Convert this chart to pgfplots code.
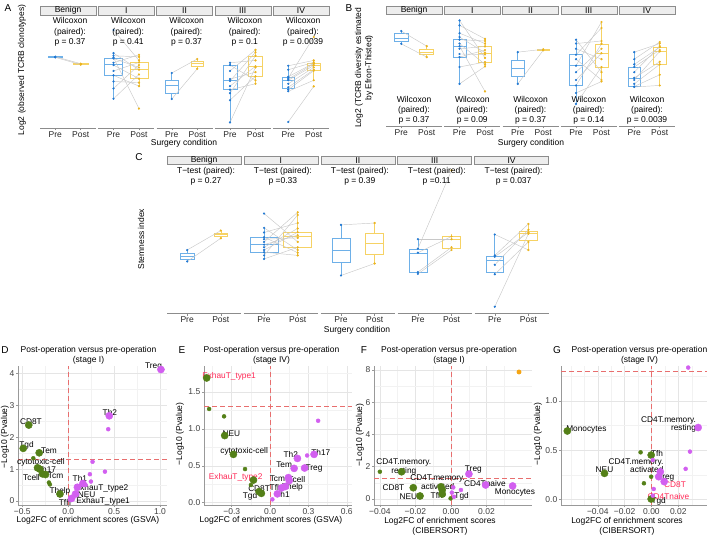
\documentclass[border=0pt]{standalone}
\usepackage{pgfplots}
\usepackage{pgfplotstable}
\pgfplotsset{compat=1.18}
\usepgfplotslibrary{statistics}
\usepackage{fontspec}
\setmainfont{Liberation Sans}

\definecolor{preblue}{RGB}{31,119,210}
\definecolor{prebox}{RGB}{110,176,232}
\definecolor{postgold}{RGB}{236,180,30}
\definecolor{postbox}{RGB}{246,210,100}
\definecolor{pairline}{RGB}{200,200,200}
\definecolor{stripfill}{RGB}{237,237,237}
\definecolor{stripdraw}{RGB}{140,140,140}
\definecolor{vgreen}{RGB}{84,128,24}
\definecolor{vmag}{RGB}{210,95,240}
\definecolor{vorange}{RGB}{245,165,20}
\definecolor{vred}{RGB}{255,40,85}
\definecolor{refred}{RGB}{232,110,110}

\newcommand{\fs}{\fontsize{8.5}{10.2}\selectfont}
\newcommand{\fv}{\fontsize{8.3}{7.2}\selectfont}
\newcommand{\fl}{\fontsize{10}{12}\selectfont}
\tikzset{lab/.style={font=\fv, inner sep=0}}

% ---------- Panel A (paired values: pre post) ----------
\pgfplotstableread{
pre post
17.46 17.16
17.43 17.12
}\ABen
\pgfplotstableread{
pre post
18.60 17.30
17.61 16.90
17.50 17.45
17.42 15.24
17.38 17.00
17.20 17.54
17.10 16.52
16.85 17.21
16.66 16.20
16.40 16.35
16.10 17.10
15.66 16.70
}\AI
\pgfplotstableread{
pre post
16.76 17.36
15.65 16.94
}\AII
\pgfplotstableread{
pre post
17.20 17.30
17.10 16.45
16.85 17.75
16.50 16.80
16.42 17.65
16.20 17.05
16.05 16.30
15.90 17.50
15.60 16.62
14.65 17.00
}\AIII
\pgfplotstableread{
pre post
17.07 17.30
16.90 17.22
16.60 17.18
16.55 18.30
16.50 17.15
16.45 17.08
16.30 17.00
16.15 16.90
16.05 16.86
15.98 16.45
14.67 16.19
}\AIV
% ---------- Panel B ----------
\pgfplotstableread{
pre post
20.68 20.10
20.19 19.68
}\BBen
\pgfplotstableread{
pre post
21.09 19.65
20.90 20.38
20.60 20.20
20.45 19.85
20.35 20.30
20.20 19.40
20.10 18.36
20.00 20.09
19.80 19.78
19.68 19.95
19.30 19.49
18.65 19.32
}\BI
\pgfplotstableread{
pre post
19.87 19.98
18.65 19.94
}\BII
\pgfplotstableread{
pre post
20.35 19.10
20.20 20.30
20.00 19.60
19.77 20.80
19.60 18.80
19.35 21.03
19.10 20.00
18.80 19.83
18.59 20.19
18.30 18.74
17.88 19.30
}\BIII
\pgfplotstableread{
pre post
19.87 20.20
19.60 20.26
19.40 20.06
19.30 19.95
19.10 20.10
18.88 19.50
18.80 19.90
18.65 19.40
18.55 19.00
18.53 18.59
}\BIV
% ---------- Panel C ----------
\pgfplotstableread{
pre post
0.420 0.564
0.335 0.507
}\CBen
\pgfplotstableread{
pre post
0.690 0.480
0.584 0.420
0.550 0.620
0.515 0.400
0.500 0.510
0.480 0.700
0.460 0.530
0.440 0.580
0.420 0.552
0.404 0.380
0.380 0.680
0.354 0.440
}\CI
\pgfplotstableread{
pre post
0.606 0.620
0.231 0.320
}\CII
\pgfplotstableread{
pre post
0.500 0.500
0.430 1.010
0.400 0.520
0.256 0.440
0.243 0.420
}\CIII
\pgfplotstableread{
pre post
0.535 0.420
0.380 0.613
0.370 0.550
0.310 0.570
0.240 0.480
0.000 0.540
}\CIV

\newcommand{\bx}[8]{\addplot[draw=#8, line width=0.6pt, boxplot/draw direction=y, boxplot prepared={draw position=#1, box extend=#2, whisker extend=0, lower whisker=#3, lower quartile=#4, median=#5, upper quartile=#6, upper whisker=#7}] coordinates {};}
\newcommand{\pairs}[1]{%
  \addplot[draw=pairline, line width=0.45pt, quiver={u=1, v=\thisrow{post}-\thisrow{pre}}] table[x expr=1, y=pre] {#1};
  \addplot[only marks, mark=*, mark size=0.9pt, mark options={draw=preblue, fill=preblue}] table[x expr=1, y=pre] {#1};
  \addplot[only marks, mark=*, mark size=0.9pt, mark options={draw=postgold, fill=postgold}] table[x expr=2, y=post] {#1};
}

\pgfplotsset{
 facet/.style={
   scale only axis, anchor=south west, xmin=0.4, xmax=2.6,
   boxplot/draw direction=y,
   axis x line*=bottom, axis y line=none,
   xtick={1,2}, xticklabels={Pre,Post}, ytick=\empty,
   axis line style={draw=black!45, line width=0.5pt},
   every tick/.style={draw=black!45, line width=0.5pt},
   major tick length=2.5pt, tick align=outside,
   tick label style={font=\fs, text=black!85, inner sep=1pt},
 },
 firsty/.style={axis y line*=left},
 volc/.style={
   scale only axis, anchor=south west, clip=false,
   scaled x ticks=false, scaled y ticks=false,
   axis x line*=bottom, axis y line*=left,
   axis line style={draw=black!40, line width=0.5pt},
   every tick/.style={draw=black!40, line width=0.5pt},
   major tick length=2pt, minor tick length=0pt, tick align=outside,
   xmajorgrids, ymajorgrids, xminorgrids, yminorgrids,
   major grid style={draw=black!10, line width=0.5pt},
   minor grid style={draw=black!5, line width=0.35pt},
   tick label style={font=\fs, text=black!75, inner sep=1.5pt},
 },
 big/.style={only marks, mark=*, mark size=3.6pt},
 small/.style={only marks, mark=*, mark size=2pt},
 gpt/.style={mark options={draw=vgreen, fill=vgreen}},
 mpt/.style={mark options={draw=vmag, fill=vmag}},
 refl/.style={draw=refred, line width=0.8pt, dash pattern=on 5pt off 3pt},
}

\begin{document}
\begin{tikzpicture}[x=1pt,y=1pt]
\useasboundingbox (0,0) rectangle (709,-537);

% ================= Panel A =================
\node[font=\fl] at (8,-8) {A};
\node[font=\fs, rotate=90] at (22,-70) {Log2 (observed TCRB clonotypes)};
\begin{axis}[facet, firsty, at={(40pt,-128pt)}, width=56pt, height=112.5pt, ymin=14.41, ymax=19.22, ytick={15,16,17,18,19}, yticklabels={15,16,17,18,19}]
\bx{1}{0.58}{17.43}{17.435}{17.445}{17.455}{17.46}{prebox}
\bx{2}{0.58}{17.12}{17.125}{17.14}{17.155}{17.16}{postbox}
\pairs{\ABen}
\end{axis}
\begin{axis}[facet, at={(98.25pt,-128pt)}, width=56pt, height=112.5pt, ymin=14.41, ymax=19.22]
\bx{1}{0.72}{15.66}{16.66}{17.13}{17.38}{17.61}{prebox}
\bx{2}{0.72}{16.2}{16.52}{16.93}{17.21}{17.54}{postbox}
\pairs{\AI}
\end{axis}
\begin{axis}[facet, at={(156.5pt,-128pt)}, width=56pt, height=112.5pt, ymin=14.41, ymax=19.22]
\bx{1}{0.5}{15.65}{15.90}{16.22}{16.46}{16.76}{prebox}
\bx{2}{0.5}{16.94}{17.04}{17.18}{17.27}{17.36}{postbox}
\pairs{\AII}
\end{axis}
\begin{axis}[facet, at={(214.75pt,-128pt)}, width=56pt, height=112.5pt, ymin=14.41, ymax=19.22]
\bx{1}{0.55}{14.65}{16.05}{16.46}{17.09}{17.2}{prebox}
\bx{2}{0.55}{16.3}{16.62}{17.04}{17.47}{17.75}{postbox}
\pairs{\AIII}
\end{axis}
\begin{axis}[facet, at={(273pt,-128pt)}, width=56pt, height=112.5pt, ymin=14.41, ymax=19.22]
\bx{1}{0.5}{15.98}{16.11}{16.47}{16.57}{17.07}{prebox}
\bx{2}{0.5}{16.45}{16.86}{17.09}{17.18}{17.3}{postbox}
\pairs{\AIV}
\end{axis}
\foreach \l/\t in {40/Benign, 98.25/I, 156.5/II, 214.75/III, 273/IV}{
  \draw[fill=stripfill, draw=stripdraw, line width=0.5pt] (\l,-6) rectangle (\l+56,-15.5);
  \node[font=\fs, inner sep=0] at (\l+28,-10.75) {\t};
}
\foreach \c/\p in {68/0.37, 126.25/0.41, 184.5/0.37, 242.75/0.1, 301/0.0039}{
  \node[font=\fs, align=center, inner sep=0] at (\c+2,-32) {Wilcoxon\\(paired):\\p = \p};
}
\node[font=\fs] at (184,-143) {Surgery condition};

% ================= Panel B =================
\node[font=\fl] at (349,-8) {B};
\node[font=\fs, rotate=90, align=center] at (364,-68) {Log2 (TCRB diversity estimated\\by Efron-Thisted)};
\begin{axis}[facet, firsty, at={(386pt,-126pt)}, width=56pt, height=111.3pt, ymin=17.03, ymax=21.31, ytick={18,19,20,21}, yticklabels={18,19,20,21}]
\bx{1}{0.55}{20.19}{20.29}{20.42}{20.58}{20.68}{prebox}
\bx{2}{0.55}{19.68}{19.78}{19.87}{19.97}{20.1}{postbox}
\pairs{\BBen}
\end{axis}
\begin{axis}[facet, at={(444.25pt,-126pt)}, width=56pt, height=111.3pt, ymin=17.03, ymax=21.31]
\bx{1}{0.52}{18.65}{19.68}{20.09}{20.35}{21.09}{prebox}
\bx{2}{0.52}{19.32}{19.49}{19.81}{20.09}{20.38}{postbox}
\pairs{\BI}
\end{axis}
\begin{axis}[facet, at={(502.5pt,-126pt)}, width=56pt, height=111.3pt, ymin=17.03, ymax=21.31]
\bx{1}{0.5}{18.65}{18.94}{19.26}{19.55}{19.87}{prebox}
\bx{2}{0.5}{19.94}{19.945}{19.96}{19.97}{19.98}{postbox}
\pairs{\BII}
\end{axis}
\begin{axis}[facet, at={(560.75pt,-126pt)}, width=56pt, height=111.3pt, ymin=17.03, ymax=21.31]
\bx{1}{0.5}{17.88}{18.59}{19.35}{19.77}{20.35}{prebox}
\bx{2}{0.5}{18.74}{19.3}{19.83}{20.19}{21.03}{postbox}
\pairs{\BIII}
\end{axis}
\begin{axis}[facet, at={(619pt,-126pt)}, width=56pt, height=111.3pt, ymin=17.03, ymax=21.31]
\bx{1}{0.5}{18.53}{18.55}{18.88}{19.3}{19.87}{prebox}
\bx{2}{0.5}{18.59}{19.4}{19.91}{20.06}{20.26}{postbox}
\pairs{\BIV}
\end{axis}
\foreach \l/\t in {386/Benign, 444.25/I, 502.5/II, 560.75/III, 619/IV}{
  \draw[fill=stripfill, draw=stripdraw, line width=0.5pt] (\l,-6) rectangle (\l+56,-14.7);
  \node[font=\fs, inner sep=0] at (\l+28,-10.35) {\t};
}
\foreach \c/\p in {414/0.37, 472.25/0.09, 530.5/0.37, 588.75/0.14, 647/0.0039}{
  \node[font=\fs, align=center, inner sep=0] at (\c,-110.3) {Wilcoxon\\(paired):\\p = \p};
}
\node[font=\fs] at (531,-143) {Surgery condition};

% ================= Panel C =================
\node[font=\fl] at (139,-157) {C};
\node[font=\fs, rotate=90] at (141,-239) {Stemness index};
\begin{axis}[facet, firsty, at={(167pt,-313.3pt)}, width=74pt, height=149pt, ymin=-0.049, ymax=1.055, ytick={0,0.25,0.5,0.75,1}, yticklabels={0.00,0.25,0.50,0.75,1.00}]
\bx{1}{0.4}{0.335}{0.354}{0.377}{0.399}{0.42}{prebox}
\bx{2}{0.4}{0.507}{0.52}{0.54}{0.547}{0.564}{postbox}
\pairs{\CBen}
\end{axis}
\begin{axis}[facet, at={(243.9pt,-313.3pt)}, width=74pt, height=149pt, ymin=-0.049, ymax=1.055]
\bx{1}{0.83}{0.354}{0.404}{0.46}{0.515}{0.584}{prebox}
\bx{2}{0.83}{0.38}{0.44}{0.52}{0.552}{0.70}{postbox}
\pairs{\CI}
\end{axis}
\begin{axis}[facet, at={(320.8pt,-313.3pt)}, width=74pt, height=149pt, ymin=-0.049, ymax=1.055]
\bx{1}{0.53}{0.231}{0.327}{0.421}{0.507}{0.606}{prebox}
\bx{2}{0.53}{0.32}{0.391}{0.473}{0.544}{0.62}{postbox}
\pairs{\CII}
\end{axis}
\begin{axis}[facet, at={(397.7pt,-313.3pt)}, width=74pt, height=149pt, ymin=-0.049, ymax=1.055]
\bx{1}{0.53}{0.243}{0.256}{0.396}{0.428}{0.50}{prebox}
\bx{2}{0.53}{0.42}{0.436}{0.498}{0.525}{0.54}{postbox}
\pairs{\CIII}
\end{axis}
\begin{axis}[facet, at={(474.6pt,-313.3pt)}, width=74pt, height=149pt, ymin=-0.049, ymax=1.055]
\bx{1}{0.53}{0.238}{0.253}{0.342}{0.377}{0.535}{prebox}
\bx{2}{0.53}{0.42}{0.49}{0.544}{0.557}{0.613}{postbox}
\pairs{\CIV}
\end{axis}
\foreach \l/\t in {167/Benign, 243.9/I, 320.8/II, 397.7/III, 474.6/IV}{
  \draw[fill=stripfill, draw=stripdraw, line width=0.5pt] (\l,-156.7) rectangle (\l+74,-164.3);
  \node[font=\fs, inner sep=0] at (\l+37,-160.5) {\t};
}
\foreach \c/\p in {204/p = 0.27, 280.9/p =0.33, 357.8/p = 0.39, 434.7/p =0.11, 511.6/p = 0.037}{
  \node[font=\fs, align=center, inner sep=0] at (\c+2,-176.3) {T−test (paired):\\\p};
}
\node[font=\fs] at (357,-330) {Surgery condition};

% ================= Panel D =================
\node[font=\fl] at (5,-350) {D};
\node[font=\fs, align=center] at (88.5,-355.5) {Post-operation versus pre-operation\\(stage I)};
\node[font=\fs, rotate=90] at (5,-437) {−Log10 (Pvalue)};
\node[font=\fs] at (88,-520) {Log2FC of enrichment scores (GSVA)};
\begin{axis}[volc, at={(18pt,-505pt)}, width=149pt, height=139pt,
  xmin=-0.547, xmax=1.076, ymin=-0.125, ymax=4.23,
  xtick={-0.5,0,0.5,1}, xticklabels={−0.5,0.0,0.5,1.0},
  ytick={0,1,2,3,4}, yticklabels={0,1,2,3,4},
  minor xtick={-0.25,0.25,0.75}, minor ytick={0.5,1.5,2.5,3.5}]
\addplot[refl] coordinates {(-0.547,1.301) (1.076,1.301)};
\addplot[refl] coordinates {(0,-0.125) (0,4.23)};
\addplot[small, gpt] coordinates {(-0.38,1.34) (-0.21,0.58) (-0.2,0.52)};
\addplot[big, gpt] coordinates {(-0.43,2.38) (-0.49,1.65) (-0.316,1.51) (-0.334,1.04) (-0.31,1.0) (-0.28,0.85) (-0.247,0.83) (-0.09,0.22)};
\addplot[small, mpt] coordinates {(0.436,2.25) (0.265,1.23) (0.40,0.92) (0.236,0.84) (0.247,0.61) (0.02,0.04) (0.05,0.13) (0.19,0.5)};
\addplot[big, mpt] coordinates {(1.01,4.12) (0.447,2.67) (0.16,0.55) (0.10,0.43) (0.08,0.22) (0.036,0.08)};
\node[lab] at (axis cs:0.93,4.2) {Treg};
\node[lab] at (axis cs:-0.407,2.49) {CD8T};
\node[lab] at (axis cs:-0.454,1.75) {Tgd};
\node[lab] at (axis cs:-0.21,1.57) {Tem};
\node[lab] at (axis cs:-0.298,1.21) {cytotoxic-cell};
\node[lab] at (axis cs:-0.236,0.98) {Th17};
\node[lab] at (axis cs:-0.40,0.75) {Tcell};
\node[lab] at (axis cs:-0.138,0.78) {Tcm};
\node[lab] at (axis cs:-0.09,0.29) {Thelp};
\node[lab] at (axis cs:-0.036,-0.05) {Tfh};
\node[lab] at (axis cs:0.454,2.77) {Th2};
\node[lab] at (axis cs:0.127,0.69) {Th1};
\node[lab] at (axis cs:0.363,0.41) {ExhauT\_type2};
\node[lab] at (axis cs:0.2,0.21) {NEU};
\node[lab] at (axis cs:0.38,0.0) {ExhauT\_type1};
\end{axis}

% ================= Panel E =================
\node[font=\fl] at (182,-350) {E};
\node[font=\fs, align=center] at (271.5,-355.5) {Post-operation versus pre-operation\\(stage IV)};
\node[font=\fs, rotate=90] at (180,-434) {−Log10 (Pvalue)};
\node[font=\fs] at (271,-520) {Log2FC of enrichment scores (GSVA)};
\begin{axis}[volc, at={(204pt,-505pt)}, width=148pt, height=139pt,
  xmin=-0.517, xmax=0.641, ymin=-0.031, ymax=1.852,
  xtick={-0.3,0,0.3,0.6}, xticklabels={−0.3,0.0,0.3,0.6},
  ytick={0,0.5,1,1.5}, yticklabels={0.0,0.5,1.0,1.5},
  minor xtick={-0.45,-0.15,0.15,0.45}, minor ytick={0.25,0.75,1.25,1.75}]
\addplot[refl] coordinates {(-0.517,1.301) (0.641,1.301)};
\addplot[refl] coordinates {(0,-0.031) (0,1.852)};
\addplot[small, gpt] coordinates {(-0.477,1.27) (-0.36,1.17) (-0.196,0.456) (-0.15,0.24)};
\addplot[big, gpt] coordinates {(-0.496,1.69) (-0.355,0.91) (-0.287,0.655) (-0.13,0.307) (-0.086,0.15) (-0.068,0.127)};
\addplot[small, mpt] coordinates {(0.376,1.11) (0.29,0.64) (0.018,0.045)};
\addplot[big, mpt] coordinates {(0.214,0.60) (0.344,0.655) (0.188,0.465) (0.27,0.47) (0.143,0.34) (0.15,0.30) (0.12,0.22) (0.09,0.20) (0.057,0.12)};
\node[lab, text=vred] at (axis cs:-0.321,1.717) {ExhauT\_type1};
\node[lab] at (axis cs:-0.303,0.94) {NEU};
\node[lab] at (axis cs:-0.203,0.69) {cytotoxic-cell};
\node[lab, text=vred] at (axis cs:-0.269,0.339) {ExhauT\_type2};
\node[lab] at (axis cs:-0.086,0.185) {CD8T};
\node[lab] at (axis cs:-0.157,0.085) {Tgd};
\node[lab] at (axis cs:0.162,0.66) {Th2};
\node[lab] at (axis cs:0.397,0.68) {Th17};
\node[lab] at (axis cs:0.11,0.51) {Tem};
\node[lab] at (axis cs:0.344,0.465) {Treg};
\node[lab] at (axis cs:0.057,0.32) {Tcm};
\node[lab] at (axis cs:0.209,0.32) {Tcell};
\node[lab] at (axis cs:0.044,0.205) {Tfh};
\node[lab] at (axis cs:0.175,0.205) {Thelp};
\node[lab] at (axis cs:0.097,0.11) {Th1};
\end{axis}

% ================= Panel F =================
\node[font=\fl] at (364,-350) {F};
\node[font=\fs, align=center] at (449,-355.5) {Post-operation versus pre-operation\\(stage I)};
\node[font=\fs, rotate=90] at (360,-435) {−Log10 (Pvalue)};
\node[font=\fs, align=center] at (440,-526.5) {Log2FC of enrichment scores\\(CIBERSORT)};
\begin{axis}[volc, at={(374pt,-505pt)}, width=158pt, height=139pt,
  xmin=-0.0433, xmax=0.0456, ymin=-0.37, ymax=8.24,
  xtick={-0.04,-0.02,0,0.02}, xticklabels={−0.04,−0.02,0.00,0.02},
  ytick={0,2,4,6,8}, yticklabels={0,2,4,6,8},
  minor xtick={-0.03,-0.01,0.01,0.03}, minor ytick={1,3,5,7}]
\addplot[refl] coordinates {(-0.0433,1.301) (0.0456,1.301)};
\addplot[refl] coordinates {(0,-0.37) (0,8.24)};
\addplot[small, gpt] coordinates {(-0.04,1.69) (-0.0178,0.12) (-0.0043,0.25) (-0.0002,0.04)};
\addplot[big, gpt] coordinates {(-0.0278,1.69) (-0.0212,0.70) (-0.0174,0.19) (-0.0056,0.76) (-0.0049,0.56) (-0.0049,0.31)};
\addplot[small, mpt] coordinates {(0.0017,0.14) (0.0013,0.72) (0.0056,0.56) (0.0005,0.4)};
\addplot[big, mpt] coordinates {(0.0101,1.55) (0.0195,0.87) (0.0347,0.81)};
\addplot[only marks, mark=*, mark size=2.2pt, mark options={draw=vorange, fill=vorange}] coordinates {(0.0383,7.87)};
\node[lab, align=center] at (axis cs:-0.0265,1.98) {CD4T.memory.\\resting};
\node[lab] at (axis cs:-0.0324,0.72) {CD8T};
\node[lab] at (axis cs:-0.024,0.145) {NEU};
\node[lab, align=center] at (axis cs:-0.0075,1.05) {CD4T.memory.\\activated};
\node[lab] at (axis cs:-0.008,0.19) {Tfh};
\node[lab] at (axis cs:0.006,0.145) {Tgd};
\node[lab] at (axis cs:0.0126,1.84) {Treg};
\node[lab] at (axis cs:0.0191,0.97) {CD4Tnaive};
\node[lab] at (axis cs:0.036,0.41) {Monocytes};
\end{axis}

% ================= Panel G =================
\node[font=\fl] at (557,-350) {G};
\node[font=\fs, align=center] at (639.5,-355.5) {Post-operation versus pre-operation\\(stage IV)};
\node[font=\fs, rotate=90] at (538,-434) {−Log10 (Pvalue)};
\node[font=\fs, align=center] at (627,-526.5) {Log2FC of enrichment scores\\(CIBERSORT)};
\begin{axis}[volc, at={(561pt,-505pt)}, width=146pt, height=139pt,
  xmin=-0.0674, xmax=0.0414, ymin=-0.058, ymax=1.356,
  xtick={-0.04,-0.02,0,0.02}, xticklabels={−0.04,−0.02,0.00,0.02},
  ytick={0,0.5,1}, yticklabels={0.0,0.5,1.0},
  minor xtick={-0.06,-0.05,-0.03,-0.01,0.01,0.03}, minor ytick={0.25,0.75,1.25}]
\addplot[refl] coordinates {(-0.0674,1.301) (0.0414,1.301)};
\addplot[refl] coordinates {(0,-0.058) (0,1.356)};
\addplot[small, gpt] coordinates {(-0.0081,0.478) (-0.0056,0.163) (-0.0002,0.23)};
\addplot[big, gpt] coordinates {(-0.0627,0.695) (-0.035,0.264) (-0.0002,0.45) (-0.0002,0.003)};
\addplot[small, mpt] coordinates {(0.0287,0.485) (0.0255,0.31) (0.001,0.40) (0.0017,0.105) (0.001,0.037) (0.0274,1.34)};
\addplot[big, mpt] coordinates {(0.0348,0.73) (0.0054,0.23) (0.0066,0.28) (0.0095,0.18)};
\node[lab] at (axis cs:-0.0485,0.705) {Monocytes};
\node[lab] at (axis cs:-0.035,0.305) {NEU};
\node[lab] at (axis cs:0.0042,0.468) {Tfh};
\node[lab] at (axis cs:0.0054,-0.024) {Tgd};
\node[lab, align=right, anchor=east] at (axis cs:0.0333,0.76) {CD4T.memory.\\resting};
\node[lab, align=right, anchor=east] at (axis cs:0.0091,0.342) {CD4T.memory.\\activated};
\node[lab] at (axis cs:0.0108,0.222) {Treg};
\node[lab, text=vred] at (axis cs:0.0176,0.150) {CD8T};
\node[lab, text=vred] at (axis cs:0.0127,0.030) {CD4Tnaive};
\end{axis}
\end{tikzpicture}
\end{document}
